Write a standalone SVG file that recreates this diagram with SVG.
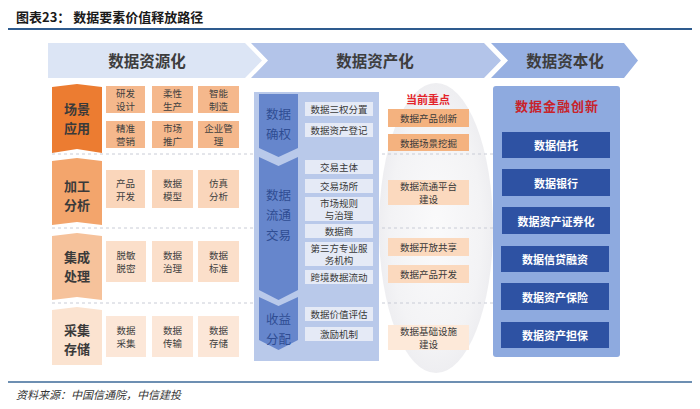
<svg xmlns="http://www.w3.org/2000/svg" width="700" height="409" viewBox="0 0 700 409">
<defs>
<style>
text{font-family:"Noto Sans CJK SC","Noto Sans",sans-serif;text-anchor:middle;dominant-baseline:central;fill:#3a3a3a}
.hd{font-size:15.5px;font-weight:bold;fill:#3d3d3d}
.lb{font-size:13px;font-weight:bold;fill:#3a3a3a}
.it{font-size:9.5px;fill:#404040}
.mi{font-size:9.5px;fill:#3a3a3a}
.st{font-size:12.5px;fill:#2f4d93}
.dk{font-size:11px;fill:#ffffff;font-weight:bold}
.sep{stroke:#c9ccd6;stroke-width:1;stroke-dasharray:3 3;fill:none}
</style>
<radialGradient id="eg" cx="0.5" cy="0.5" r="0.5">
<stop offset="0" stop-color="#fafafb"/>
<stop offset="0.8" stop-color="#f3f3f5"/>
<stop offset="1" stop-color="#eeeef1"/>
</radialGradient>
</defs>
<rect width="700" height="409" fill="#ffffff"/>
<!-- title -->
<text x="16" y="16" style="text-anchor:start;font-size:13px;font-weight:bold;fill:#1a1a1a">图表23：  数据要素价值释放路径</text>
<line x1="8" y1="29" x2="692" y2="29" stroke="#2e5b8e" stroke-width="2"/>
<line x1="8" y1="382" x2="692" y2="382" stroke="#3d6a99" stroke-width="1.5"/>
<text x="16" y="394" style="text-anchor:start;font-size:11px;font-style:italic;fill:#333">资料来源：中国信通院，中信建投</text>

<!-- header arrows -->
<g id="hdr1"><path d="M48,43 L245,43 L262,60.5 L245,78 L48,78 Z" fill="#dce5f5"/><text class="hd" x="147" y="60">数据资源化</text></g>
<g id="hdr2"><path d="M251,43 L484,43 L501,60.5 L484,78 L251,78 L268,60.5 Z" fill="#b3c4e9"/><text class="hd" x="375" y="60">数据资产化</text></g>
<g id="hdr3"><path d="M491,43 L624,43 L638,60.5 L624,78 L491,78 L508,60.5 Z" fill="#97b0e2"/><text class="hd" x="565" y="60">数据资本化</text></g>

<!-- ellipse -->
<ellipse cx="436" cy="228" rx="57" ry="145" fill="url(#eg)"/>

<!-- separators -->
<g id="separators">
<line class="sep" x1="52" y1="154" x2="496" y2="154"/>
<line class="sep" x1="52" y1="228" x2="496" y2="228"/>
<line class="sep" x1="52" y1="303" x2="496" y2="303"/>
</g>

<!-- left rows -->
<g id="row1">
<path d="M52,87 L77,84 L102,87 L102,153 L77,149 L52,153 Z" fill="#ec7c31"/>
<text class="lb" x="77" y="108.5">场景</text><text class="lb" x="77" y="127.5">应用</text>
<rect x="106" y="86" width="39" height="27" fill="#f5b88c"/><text class="it" x="125.5" y="93.25">研发</text><text class="it" x="125.5" y="105.75">设计</text>
<rect x="152" y="86" width="41" height="27" fill="#f5b88c"/><text class="it" x="172.5" y="93.25">柔性</text><text class="it" x="172.5" y="105.75">生产</text>
<rect x="198" y="86" width="41" height="27" fill="#f5b88c"/><text class="it" x="218.5" y="93.25">智能</text><text class="it" x="218.5" y="105.75">制造</text>
<rect x="106" y="121" width="39" height="27" fill="#f5b88c"/><text class="it" x="125.5" y="128.25">精准</text><text class="it" x="125.5" y="140.75">营销</text>
<rect x="152" y="121" width="41" height="27" fill="#f5b88c"/><text class="it" x="172.5" y="128.25">市场</text><text class="it" x="172.5" y="140.75">推广</text>
<rect x="198" y="121" width="41" height="27" fill="#f5b88c"/><text class="it" x="218.5" y="128.25">企业管</text><text class="it" x="218.5" y="140.75">理</text>
</g>
<g id="row2">
<path d="M52,161 L77,158 L102,161 L102,225 L77,222 L52,225 Z" fill="#f3a56c"/>
<text class="lb" x="77" y="185.5">加工</text><text class="lb" x="77" y="204.5">分析</text>
<rect x="106" y="170" width="39" height="38" fill="#fad6bb"/><text class="it" x="125.5" y="182.5">产品</text><text class="it" x="125.5" y="195.5">开发</text>
<rect x="152" y="170" width="41" height="38" fill="#fad6bb"/><text class="it" x="172.5" y="182.5">数据</text><text class="it" x="172.5" y="195.5">模型</text>
<rect x="198" y="170" width="41" height="38" fill="#fad6bb"/><text class="it" x="218.5" y="182.5">仿真</text><text class="it" x="218.5" y="195.5">分析</text>
</g>
<g id="row3">
<path d="M52,236 L77,233 L102,236 L102,300 L77,297 L52,300 Z" fill="#f6c29b"/>
<text class="lb" x="77" y="256.5">集成</text><text class="lb" x="77" y="275.5">处理</text>
<rect x="106" y="241" width="40" height="41" fill="#fbdfca"/><text class="it" x="126" y="255">脱敏</text><text class="it" x="126" y="268">脱密</text>
<rect x="152" y="241" width="41" height="41" fill="#fbdfca"/><text class="it" x="172.5" y="255">数据</text><text class="it" x="172.5" y="268">治理</text>
<rect x="198" y="241" width="41" height="41" fill="#fbdfca"/><text class="it" x="218.5" y="255">数据</text><text class="it" x="218.5" y="268">标准</text>
</g>
<g id="row4">
<path d="M52,310 L77,307 L102,310 L102,365 L52,365 Z" fill="#fbe3d0"/>
<text class="lb" x="77" y="329.5">采集</text><text class="lb" x="77" y="348.5">存储</text>
<rect x="106" y="316" width="40" height="41" fill="#fce7d8"/><text class="it" x="126" y="330">数据</text><text class="it" x="126" y="343">采集</text>
<rect x="152" y="316" width="41" height="41" fill="#fce7d8"/><text class="it" x="172.5" y="330">数据</text><text class="it" x="172.5" y="343">传输</text>
<rect x="198" y="316" width="41" height="41" fill="#fce7d8"/><text class="it" x="218.5" y="330">数据</text><text class="it" x="218.5" y="343">存储</text>
</g>

<!-- middle panel -->
<g id="asset-panel">
<rect x="254" y="92" width="125" height="269" fill="#b9c9ea"/>
<path d="M259,94 L298,94 L298,148 L278.5,157 L259,148 Z" fill="#6686cc"/>
<path d="M259,157 L278.5,166 L298,157 L298,290 L278.5,300 L259,290 Z" fill="#6686cc"/>
<path d="M259,297 L278.5,306 L298,297 L298,340 L278.5,350 L259,340 Z" fill="#6686cc"/>
<text class="st" x="278.5" y="113">数据</text><text class="st" x="278.5" y="133">确权</text>
<text class="st" x="278.5" y="194">数据</text><text class="st" x="278.5" y="214">流通</text><text class="st" x="278.5" y="234">交易</text>
<text class="st" x="278.5" y="318">收益</text><text class="st" x="278.5" y="338">分配</text>
</g>
<g id="asset-items">
<rect x="305" y="102" width="68" height="14" fill="#e5eaf6"/><text class="mi" x="339" y="109">数据三权分置</text>
<rect x="305" y="123" width="68" height="14" fill="#e5eaf6"/><text class="mi" x="339" y="130">数据资产登记</text>
<rect x="305" y="160" width="68" height="14" fill="#e5eaf6"/><text class="mi" x="339" y="167">交易主体</text>
<rect x="305" y="179" width="68" height="14" fill="#e5eaf6"/><text class="mi" x="339" y="186">交易场所</text>
<rect x="305" y="197" width="68" height="24" fill="#e5eaf6"/><text class="mi" x="339" y="202.75">市场规则</text><text class="mi" x="339" y="215.25">与治理</text>
<rect x="305" y="224" width="68" height="14" fill="#e5eaf6"/><text class="mi" x="339" y="231">数据商</text>
<rect x="305" y="242" width="68" height="24" fill="#e5eaf6"/><text class="mi" x="339" y="247.75">第三方专业服</text><text class="mi" x="339" y="260.25">务机构</text>
<rect x="305" y="270" width="68" height="14" fill="#e5eaf6"/><text class="mi" x="339" y="277">跨境数据流动</text>
<rect x="305" y="307" width="68" height="14" fill="#e5eaf6"/><text class="mi" x="339" y="314">数据价值评估</text>
<rect x="305" y="327" width="68" height="14" fill="#e5eaf6"/><text class="mi" x="339" y="334">激励机制</text>
</g>

<!-- focus column -->
<g id="focus">
<text x="428" y="99" style="font-size:11px;font-weight:bold;fill:#e3242b">当前重点</text>
<rect x="388" y="109" width="81" height="18" fill="#f4b27f"/><text class="mi" x="428.5" y="118">数据产品创新</text>
<rect x="388" y="134" width="81" height="17" fill="#f4b27f"/><text class="mi" x="428.5" y="142.5">数据场景挖掘</text>
<rect x="388" y="180" width="81" height="25" fill="#fbd9be"/><text class="mi" x="428.5" y="186.25">数据流通平台</text><text class="mi" x="428.5" y="198.75">建设</text>
<rect x="388" y="238" width="81" height="18" fill="#fbd9be"/><text class="mi" x="428.5" y="247">数据开放共享</text>
<rect x="388" y="265" width="81" height="18" fill="#fbd9be"/><text class="mi" x="428.5" y="274">数据产品开发</text>
<rect x="388" y="325" width="81" height="25" fill="#fde9d9"/><text class="mi" x="428.5" y="331.25">数据基础设施</text><text class="mi" x="428.5" y="343.75">建设</text>
</g>

<!-- capital panel -->
<g id="capital">
<rect x="493" y="86" width="127" height="271" rx="3" fill="#8eaadf"/>
<text x="557" y="105" style="font-size:13px;font-weight:bold;fill:#c8232b;letter-spacing:1px">数据金融创新</text>
<rect x="502" y="132" width="108" height="26" fill="#2e52a3"/><text class="dk" x="556" y="145">数据信托</text>
<rect x="502" y="169" width="108" height="27" fill="#2e52a3"/><text class="dk" x="556" y="182.5">数据银行</text>
<rect x="502" y="207" width="108" height="27" fill="#2e52a3"/><text class="dk" x="556" y="220.5">数据资产证券化</text>
<rect x="501" y="246" width="108" height="26" fill="#2e52a3"/><text class="dk" x="555" y="259">数据信贷融资</text>
<rect x="501" y="283" width="108" height="27" fill="#2e52a3"/><text class="dk" x="555" y="296.5">数据资产保险</text>
<rect x="501" y="322" width="108" height="26" fill="#2e52a3"/><text class="dk" x="555" y="335">数据资产担保</text>
</g>
</svg>
